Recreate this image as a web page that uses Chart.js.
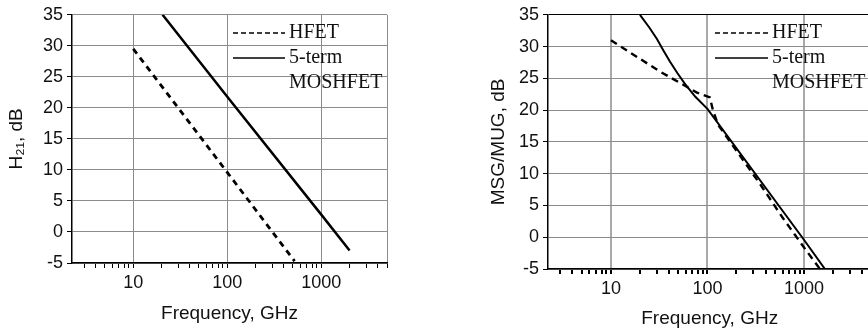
<!DOCTYPE html>
<html>
<head>
<meta charset="utf-8">
<script src="https://cdn.jsdelivr.net/npm/chart.js@4"></script>
<style>
html, body { margin: 0; padding: 0; background: #fff; overflow: hidden; }
#wrap { position: relative; width: 868px; height: 335px; overflow: hidden; }
#h21Chart { position: absolute; left: 0; top: 0; }
#msgChart { position: absolute; left: 440px; top: 0; }
</style>
</head>
<body>
<div id="wrap">
  <canvas id="h21Chart" width="400" height="335"></canvas>
  <canvas id="msgChart" width="440" height="335"></canvas>
</div>
<script>
// tick positions of the log frequency axis (GHz), labels only at decades
const freqTicks = [3, 4, 5, 6, 7, 8, 9, 10, 20, 30, 40, 50, 60, 70, 80, 90,
    100, 200, 300, 400, 500, 600, 700, 800, 900, 1000, 2000, 3000, 4000, 5000];
const freqLabels = [10, 100, 1000];

// left panel: H21
const h21HfetFreq = [10, 100, 520];
const h21HfetDb = [29.5, 9.6, -4.7];
const h21MosFreq = [20.5, 100, 1000, 2000];
const h21MosDb = [35, 21.8, 2.8, -3];

// right panel: MSG/MUG
const msgHfetFreq = [10, 32, 77, 106, 114, 129, 200, 350, 600, 1000, 1465];
const msgHfetDb = [31, 26.1, 22.8, 22.0, 20, 17.7, 13.6, 8.4, 3.1, -1.6, -5];
const msgMosFreq = [20, 25, 30, 35, 41, 49, 58, 75, 100, 1000, 1650];
const msgMosDb = [35, 33.0, 31.2, 29.4, 27.6, 25.8, 24.2, 22.1, 20.2, -0.4, -5];

const seriesNames = ['HFET', '5-term\nMOSHFET'];

function toPoints(xs, ys) {
    return xs.map((x, i) => ({ x: x, y: ys[i] }));
}

// legend drawn inside the plot, text lines from the dataset labels
const insideLegend = {
    id: 'insideLegend',
    afterDatasetsDraw(chart, args, opts) {
        const ctx = chart.ctx;
        ctx.save();
        ctx.font = '20px "Liberation Serif", "Times New Roman", serif';
        ctx.fillStyle = '#111';
        ctx.textBaseline = 'middle';
        let y = opts.y;
        chart.data.datasets.forEach(ds => {
            ctx.beginPath();
            ctx.setLineDash(ds.legendDash);
            ctx.lineWidth = 1.3;
            ctx.strokeStyle = '#000';
            ctx.moveTo(opts.x, y);
            ctx.lineTo(opts.x + opts.lineLen, y);
            ctx.stroke();
            ds.label.split('\n').forEach(line => {
                ctx.fillText(line, opts.x + opts.lineLen + 4, y);
                y += opts.rowH;
            });
        });
        ctx.restore();
    }
};

const sans = '"Liberation Sans", Arial, sans-serif';

function buildChart(id, cfg) {
    const ctx = document.getElementById(id).getContext('2d');
    return new Chart(ctx, {
        type: 'line',
        data: {
            datasets: [
                { label: seriesNames[0], data: toPoints(cfg.hfetF, cfg.hfetDb), borderColor: '#000', borderWidth: cfg.dashWidth, borderDash: cfg.dash, legendDash: [5, 3], pointRadius: 0, tension: 0 },
                { label: seriesNames[1], data: toPoints(cfg.mosF, cfg.mosDb), borderColor: '#000', borderWidth: cfg.solidWidth, legendDash: [], pointRadius: 0, tension: 0 }
            ]
        },
        options: {
            responsive: false,
            animation: false,
            layout: { padding: cfg.padding },
            plugins: {
                legend: { display: false },
                tooltip: { enabled: false },
                insideLegend: cfg.legend
            },
            scales: {
                x: {
                    type: 'logarithmic',
                    min: 2.23,
                    max: 5000,
                    afterBuildTicks: s => { s.ticks = freqTicks.map(v => ({ value: v })); },
                    afterFit: s => { s.height = cfg.xHeight; },
                    ticks: {
                        autoSkip: false,
                        maxRotation: 0,
                        padding: 4,
                        color: '#111',
                        font: { family: sans, size: 18 },
                        callback: v => freqLabels.includes(v) ? String(v) : ''
                    },
                    grid: {
                        color: c => (freqLabels.includes(c.tick.value) || c.tick.value === 5000) ? cfg.vGrid : 'rgba(0,0,0,0)',
                        lineWidth: cfg.vGridWidth,
                        tickColor: '#000',
                        tickLength: 5
                    },
                    border: { color: '#000', width: 1.5 },
                    title: { display: true, text: 'Frequency, GHz', color: '#111', font: { family: sans, size: 19 }, padding: { top: 0, bottom: cfg.xTitlePad } }
                },
                y: {
                    min: -5,
                    max: 35,
                    afterFit: s => { s.width = cfg.yWidth; },
                    ticks: {
                        stepSize: 2.5,
                        padding: 4,
                        color: '#111',
                        font: { family: sans, size: 18 },
                        callback: v => v % 5 === 0 ? String(v) : ''
                    },
                    grid: {
                        color: c => c.tick.value % 5 !== 0 ? 'rgba(0,0,0,0)' : (c.tick.value === 35 ? cfg.topLine : '#8c8c8c'),
                        tickColor: '#000',
                        tickLength: 5
                    },
                    border: { color: '#000', width: 1.5 },
                    title: { display: true, text: cfg.yTitle, color: '#111', font: { family: sans, size: 19 }, padding: { top: cfg.yTitlePad, bottom: 0 } }
                }
            }
        },
        plugins: [insideLegend]
    });
}

buildChart('h21Chart', {
    hfetF: h21HfetFreq, hfetDb: h21HfetDb, mosF: h21MosFreq, mosDb: h21MosDb,
    dash: [6, 5], dashWidth: 2.8, solidWidth: 2.5,
    padding: { left: 0, top: 11, right: 13, bottom: 0 },
    xHeight: 72, yWidth: 72, xTitlePad: 10, yTitlePad: 5,
    vGrid: '#8c8c8c', vGridWidth: 1, topLine: '#8c8c8c',
    yTitle: 'H\u2082\u2081, dB',
    legend: { x: 233, y: 33, lineLen: 52, rowH: 25 }
});

buildChart('msgChart', {
    hfetF: msgHfetFreq, hfetDb: msgHfetDb, mosF: msgMosFreq, mosDb: msgMosDb,
    dash: [7, 5], dashWidth: 2.4, solidWidth: 2,
    padding: { left: 45, top: 9, right: 8.6, bottom: 0 },
    xHeight: 66, yWidth: 63, xTitlePad: 5, yTitlePad: 2,
    vGrid: '#aaaaaa', vGridWidth: 2, topLine: '#000',
    yTitle: 'MSG/MUG, dB',
    legend: { x: 275, y: 33, lineLen: 53, rowH: 25 }
});
</script>
</body>
</html>
